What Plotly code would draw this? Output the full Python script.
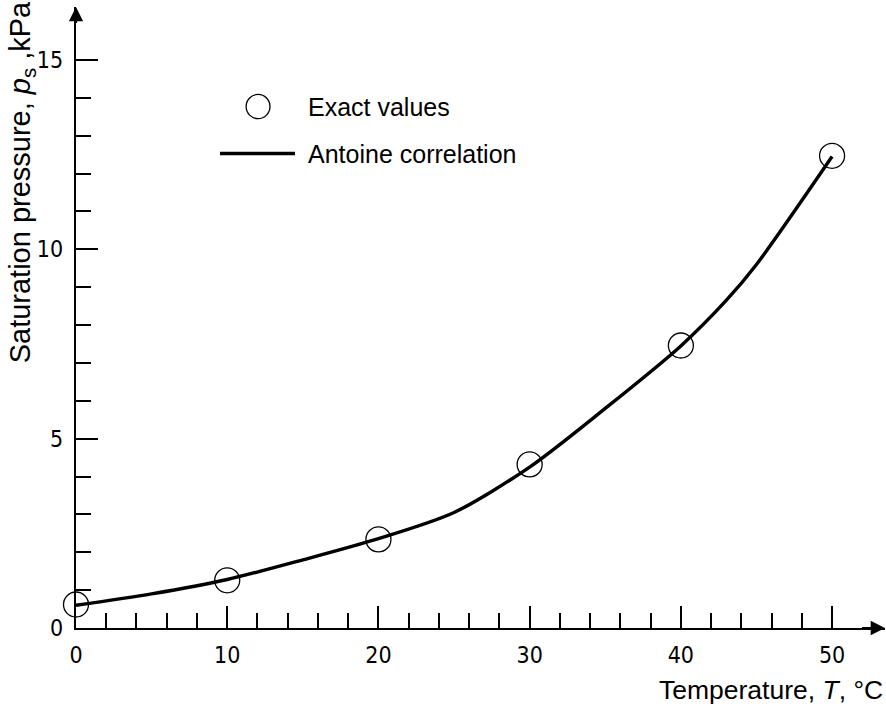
import plotly.graph_objects as go

# Exact values (circles)
T_exact = [0, 10, 20, 30, 40, 50]
p_exact = [0.62, 1.26, 2.34, 4.32, 7.46, 12.47]

# Antoine correlation (line)
T_line = [0, 5, 10, 15, 20, 25, 30, 35, 40, 43, 45, 50]
p_line = [0.60, 0.90, 1.28, 1.80, 2.36, 3.05, 4.25, 5.80, 7.45, 8.65, 9.60, 12.45]

x_major = [0, 10, 20, 30, 40, 50]
x_minor = [t for t in range(2, 50, 2) if t % 10 != 0]
y_major = [0, 5, 10, 15]
y_minor = [v for v in range(1, 15) if v % 5 != 0]

X_MAX = 53.5
Y_MAX = 16.4

tick_font = dict(family="Liberation Sans Narrow, DejaVu Sans Condensed, sans-serif", size=23, color="black")
legend_font = dict(family="Liberation Sans, Arial, sans-serif", size=25, color="black")
xtitle_font = dict(family="Liberation Sans, Arial, sans-serif", size=26.5, color="black")
ytitle_font = dict(family="Liberation Sans, Arial, sans-serif", size=29, color="black")

fig = go.Figure()
fig.add_trace(go.Scatter(x=T_line, y=p_line, mode="lines", line=dict(color="black", width=3.4, shape="spline", smoothing=0.8),
                         showlegend=False, cliponaxis=False))
fig.add_trace(go.Scatter(x=T_exact, y=p_exact, mode="markers",
                         marker=dict(symbol="circle-open", size=25, color="black", line=dict(width=1.3, color="black")),
                         showlegend=False, cliponaxis=False))

# manual legend
fig.add_shape(type="circle", xref="x", yref="y", x0=12.04 - 0.79, x1=12.04 + 0.79, y0=13.77 - 0.32, y1=13.77 + 0.32,
              line=dict(color="black", width=1.3))
fig.add_shape(type="line", xref="x", yref="y", x0=9.52, x1=14.48, y0=12.53, y1=12.53, line=dict(color="black", width=3.4))
fig.add_annotation(x=15.2, y=13.77, xref="x", yref="y", text="Exact values", showarrow=False, xanchor="left",
                   yanchor="middle", font=legend_font)
fig.add_annotation(x=15.2, y=12.53, xref="x", yref="y", text="Antoine correlation", showarrow=False, xanchor="left",
                   yanchor="middle", font=legend_font)

# axis titles
fig.add_annotation(x=1.0, y=-0.1, xref="paper", yref="paper", text="Temperature, <i>T</i>, °C", showarrow=False,
                   xanchor="right", yanchor="middle", font=xtitle_font)
fig.add_annotation(x=-0.067, y=1.012, xref="paper", yref="paper",
                   text="Saturation pressure, <i>p</i><sub>s</sub> ,kPa", showarrow=False, textangle=-90,
                   xanchor="center", yanchor="top", font=ytitle_font)

# axis arrows
fig.add_annotation(x=1, y=0, xref="x domain", yref="y", ax=-26, ay=0, showarrow=True, arrowhead=2,
                   arrowsize=1.3, arrowwidth=2.2, arrowcolor="black", text=" ", standoff=0)
fig.add_annotation(x=0, y=1, xref="x", yref="y domain", ax=0, ay=26, showarrow=True, arrowhead=2,
                   arrowsize=1.3, arrowwidth=2.2, arrowcolor="black", text=" ", standoff=0)

axis_common = dict(showgrid=False, zeroline=False, showline=True, linecolor="black", linewidth=2.4,
                   ticks="inside", ticklen=22, tickwidth=2, tickcolor="black", tickfont=tick_font)

fig.update_xaxes(range=[0, X_MAX], tickmode="array", tickvals=x_major, ticklabelstandoff=5,
                 minor=dict(tickmode="array", tickvals=x_minor, ticks="inside", ticklen=15, tickwidth=2, tickcolor="black"),
                 **axis_common)
fig.update_yaxes(range=[0, Y_MAX], tickmode="array", tickvals=y_major, ticklabelstandoff=6,
                 minor=dict(tickmode="array", tickvals=y_minor, ticks="inside", ticklen=15, tickwidth=2, tickcolor="black"),
                 **axis_common)

fig.update_layout(width=886, height=706, margin=dict(l=76, r=1, t=7, b=78), plot_bgcolor="white",
                  paper_bgcolor="white", showlegend=False)

fig.write_html("out.html")
